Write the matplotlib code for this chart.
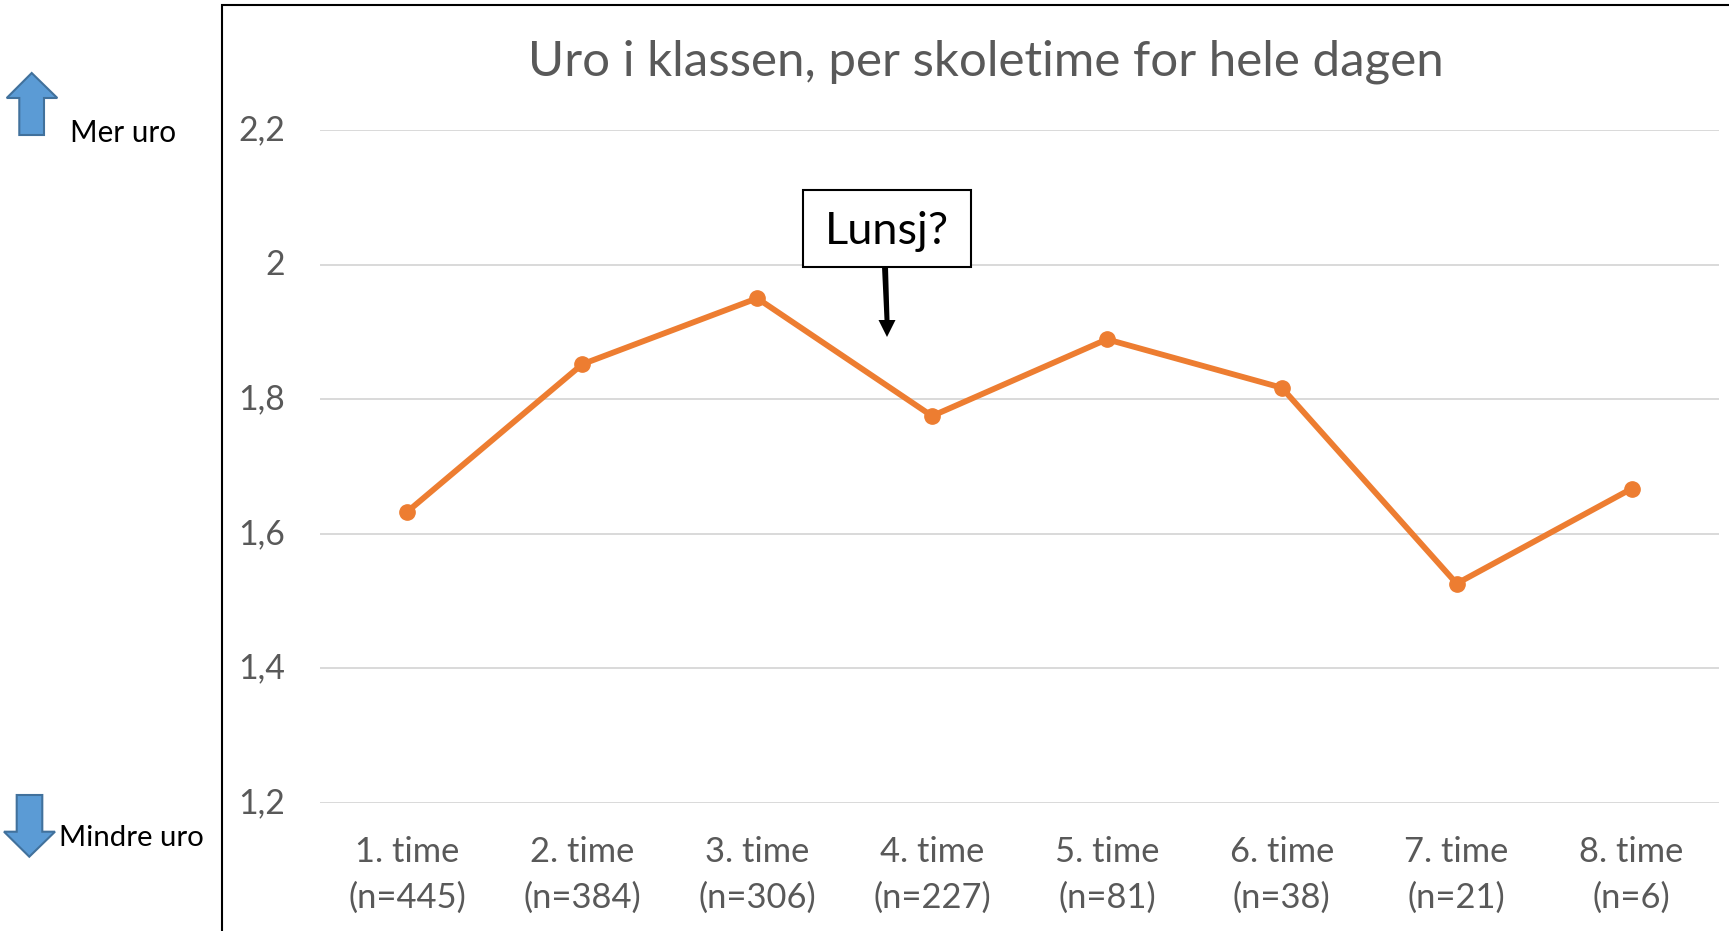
import matplotlib
matplotlib.use("Agg")
import matplotlib.pyplot as plt
from matplotlib.patches import Polygon, Rectangle

plt.rcParams['font.family'] = ['Lato', 'DejaVu Sans']

timer = ["1. time\n(n=445)", "2. time\n(n=384)", "3. time\n(n=306)", "4. time\n(n=227)",
         "5. time\n(n=81)", "6. time\n(n=38)", "7. time\n(n=21)", "8. time\n(n=6)"]
uro = [1.633, 1.852, 1.95, 1.775, 1.889, 1.817, 1.526, 1.667]
y_ticks = [1.2, 1.4, 1.6, 1.8, 2.0, 2.2]
y_labels = ["1,2", "1,4", "1,6", "1,8", "2", "2,2"]

W, H = 1729, 931
grey = "#595959"
blue = "#5B9BD5"
blue_edge = "#41719C"

fig = plt.figure(figsize=(W / 100, H / 100), dpi=100)

# plot area, measured in pixels off the reference
ax = fig.add_axes([320 / W, 1 - 803 / H, (1719 - 320) / W, (803 - 130) / H])
ax.plot(range(len(uro)), uro, color="#ED7D31", lw=4.2, marker="o", ms=11, zorder=3, clip_on=False)
ax.set_xlim(-0.5, len(uro) - 0.5)
ax.set_ylim(1.2, 2.2)
ax.set_xticks(range(len(timer)))
ax.set_xticklabels(timer, linespacing=1.55, fontsize=24.8)
ax.set_yticks(y_ticks)
ax.set_yticklabels(y_labels, va="center", fontsize=24.3)
ax.tick_params(axis="both", length=0, labelcolor=grey)
ax.tick_params(axis="y", pad=25)
ax.tick_params(axis="x", pad=23.5)
ax.grid(axis="y", color="#D9D9D9", lw=1.4)
ax.set_axisbelow(True)
for s in ax.spines.values():
    s.set_visible(False)

# overlay in pixel coords for the slide shapes
ov = fig.add_axes([0, 0, 1, 1], facecolor="none")
ov.set_xlim(0, W)
ov.set_ylim(H, 0)
ov.axis("off")

ov.plot([222, 222, W], [H, 5, 5], color="black", lw=1.5, solid_joinstyle="miter")

ov.text(986, 62, "Uro i klassen, per skoletime for hele dagen", fontsize=35.5, color=grey, ha="center", va="center")

ov.add_patch(Polygon([(31.7, 73), (57.3, 98), (44, 98), (44, 135), (19.3, 135), (19.3, 98), (6.7, 98)],
                     fc=blue, ec=blue_edge, lw=1.5))
ov.add_patch(Polygon([(29.3, 856.7), (55, 831.7), (42.3, 831.7), (42.3, 795), (16.7, 795), (16.7, 831.7), (4, 831.7)],
                     fc=blue, ec=blue_edge, lw=1.5))
ov.text(70, 133, "Mer uro", fontsize=21.3, color="black", ha="left", va="center")
ov.text(59, 838, "Mindre uro", fontsize=21.2, color="black", ha="left", va="center")

ov.add_patch(Rectangle((803, 189.5), 168, 77, fc="white", ec="black", lw=1.5, zorder=4))
ov.text(887, 231, "Lunsj?", fontsize=32.5, color="black", ha="center", va="center", zorder=5)
ov.add_patch(Polygon([(882, 267), (888, 267), (889.5, 320), (895.5, 320), (887, 337), (878.5, 320), (884.5, 320)],
                     fc="black", ec="none", zorder=4))

fig.savefig("out.png", dpi=100)
